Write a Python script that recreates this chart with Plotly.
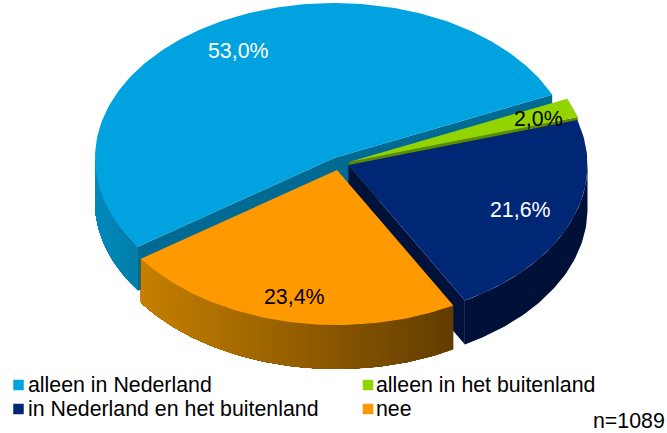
import math
import plotly.graph_objects as go

# --- data ---
categories = ["alleen in Nederland", "alleen in het buitenland",
              "in Nederland en het buitenland", "nee"]
values = [53.0, 2.0, 21.6, 23.4]
value_labels = ["53,0%", "2,0%", "21,6%", "23,4%"]
note = "n=1089"

# --- styles ---
top_colors = ["#00A3E0", "#92D400", "#002776", "#FF9900"]
face_colors = ["#006A92", "#5F8A00", "#00113A", "#A66300"]
wall_left = [(0, 138, 188), (95, 138, 0), (0, 17, 56), (198, 128, 0)]
wall_right = [(0, 124, 168), (95, 138, 0), (0, 17, 56), (98, 60, 0)]
label_colors = ["white", "black", "white", "black"]
FONT = "Liberation Sans"
FS = 21.33

# --- pie geometry (pixels of the 667x433 canvas) ---
RX, RY, DEPTH = 239, 155, 44
START = -214.9
apex = [(334, 158), (349, 162), (348.5, 165), (337, 170)]
label_pos = [(238, 51), (538, 119), (520, 210), (294, 297)]
legend_marker = [(18.5, 385), (368, 385), (18.5, 409), (368, 409)]
legend_text_x = [26, 373.5, 26, 373.5]
legend_text_y = [385, 385, 409, 409]

fig = go.Figure()


def poly(xs, ys, color, lw=0.0):
    fig.add_trace(go.Scatter(
        x=list(xs) + [xs[0]], y=list(ys) + [ys[0]], mode="lines", fill="toself",
        fillcolor=color, line=dict(color=color, width=lw),
        hoverinfo="skip", showlegend=False))


def rim(c, t):
    r = math.radians(t)
    return c[0] + RX * math.cos(r), c[1] + RY * math.sin(r)


def face(c, t, side, color):
    """Cut face along the radius at angle t, when it looks to the viewer."""
    px, py = rim(c, t)
    ex, ey = px - c[0], py - c[1]
    r = math.radians(t)
    inner = (-RX * math.sin(r) * side, RY * math.cos(r) * side)
    nx, ny = -ey, ex
    if nx * inner[0] + ny * inner[1] > 0:
        nx, ny = -nx, -ny
    if ny > 0:
        poly([c[0], px, px, c[0]], [c[1], py, py + DEPTH, c[1] + DEPTH], color)


def wall(c, a, b, col_l, col_r):
    """Outer wall from angle a to b. Each band reaches to the far end, so the
    next band paints over it and no seam shows between them."""
    xa, xb = rim(c, b)[0], rim(c, a)[0]
    n = max(int((b - a) / 1.5), 1) if col_l != col_r else 1
    for k in range(n):
        s = a + (b - a) * k / n
        steps = max(int((b - s) / 1.0), 1)
        pts = [rim(c, s + (b - s) * m / steps) for m in range(steps + 1)]
        x_mid = rim(c, s + (b - a) / n / 2)[0]
        f = (x_mid - xa) / max(xb - xa, 1)
        col = tuple(round(col_l[j] + (col_r[j] - col_l[j]) * f) for j in range(3))
        poly([p[0] for p in pts] + [p[0] for p in reversed(pts)],
             [p[1] for p in pts] + [p[1] + DEPTH for p in reversed(pts)],
             "rgb(%d,%d,%d)" % col)


total = sum(values)
t0 = START
for i, v in enumerate(values):
    t1 = t0 + v / total * 360
    c = apex[i]
    face(c, t1, -1, face_colors[i])
    face(c, t0, 1, face_colors[i])
    # only the part between 0 and 180 degrees looks to the viewer
    for shift in (0, 360, -360):
        a, b = max(t0 + shift, 0), min(t1 + shift, 180)
        if a < b:
            wall(c, a, b, wall_left[i], wall_right[i])
    n = max(int((t1 - t0) / 1.0), 2)
    pts = [rim(c, t0 + (t1 - t0) * k / n) for k in range(n + 1)]
    poly([c[0]] + [p[0] for p in pts], [c[1]] + [p[1] for p in pts], top_colors[i])
    t0 = t1

# value labels
for (x, y), txt, col in zip(label_pos, value_labels, label_colors):
    fig.add_annotation(x=x, y=y, text=txt, showarrow=False, xanchor="center", yanchor="middle",
                       font=dict(family=FONT, size=FS, color=col))

# legend
fig.add_trace(go.Scatter(
    x=[p[0] for p in legend_marker], y=[p[1] for p in legend_marker], mode="markers",
    marker=dict(symbol="square", size=10.5, color=top_colors, line=dict(width=0)),
    hoverinfo="skip", showlegend=False))
for x, y, txt in zip(legend_text_x, legend_text_y, categories):
    fig.add_annotation(x=x, y=y, text=txt, showarrow=False, xanchor="left", yanchor="middle",
                       font=dict(family=FONT, size=FS, color="black"))
fig.add_annotation(x=667, y=421, text=note, showarrow=False, xanchor="right", yanchor="middle",
                   font=dict(family=FONT, size=FS, color="black"))

fig.update_layout(
    width=667, height=433, margin=dict(l=0, r=0, t=0, b=0),
    paper_bgcolor="white", plot_bgcolor="white", showlegend=False,
    xaxis=dict(range=[0, 667], visible=False, fixedrange=True),
    yaxis=dict(range=[433, 0], visible=False, fixedrange=True),
)
fig.write_html("out.html", config={"displayModeBar": False},
               post_script="document.body.style.margin='0';document.body.style.overflow='hidden';")
